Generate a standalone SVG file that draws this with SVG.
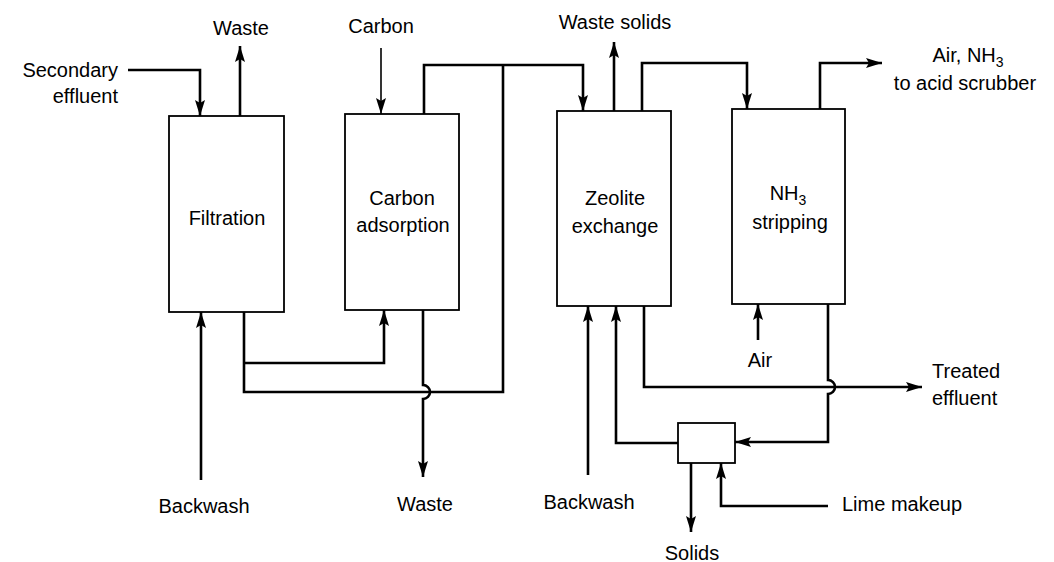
<svg xmlns="http://www.w3.org/2000/svg" width="1054" height="562" viewBox="0 0 1054 562">
<style>
.box{fill:#fff;stroke:#000;stroke-width:1.8}
.ln{fill:none;stroke:#000;stroke-width:2.6;stroke-linejoin:miter}
.thin{stroke-width:1.6}
text{font-family:"Liberation Sans",Arial,sans-serif;font-size:20px;fill:#000}
.c{text-anchor:middle}
.r{text-anchor:end}
.sub{font-size:14px}
</style>
<defs>
<marker id="ah" viewBox="0 0 16 10" refX="16" refY="5" markerWidth="16" markerHeight="10" markerUnits="userSpaceOnUse" orient="auto">
<path d="M0,0 L16,5 L0,10 L3,5 z" fill="#000"/>
</marker>
</defs>
<rect width="1054" height="562" fill="#fff"/>
<g id="filtration"><rect class="box" x="169" y="116" width="115" height="196"/><text class="c" x="227" y="225">Filtration</text></g>
<g id="carbon-adsorption"><rect class="box" x="345" y="114" width="114" height="196"/><text class="c" x="402" y="205">Carbon</text><text class="c" x="403" y="232">adsorption</text></g>
<g id="zeolite-exchange"><rect class="box" x="557" y="111" width="114" height="195"/><text class="c" x="615" y="205">Zeolite</text><text class="c" x="615" y="233">exchange</text></g>
<g id="nh3-stripping"><rect class="box" x="732" y="109" width="113" height="195"/><text class="c" x="788" y="200">NH<tspan class="sub" dy="5">3</tspan></text><text class="c" x="790" y="229">stripping</text></g>
<g id="lime-recovery"><rect class="box" x="678" y="423" width="57" height="40"/></g>
<g id="connectors">
<path class="ln" d="M128,70 H200 V116" marker-end="url(#ah)"/>
<path class="ln" d="M240,116 V46" marker-end="url(#ah)"/>
<path class="ln thin" d="M381,48 V114" marker-end="url(#ah)"/>
<path class="ln" d="M424,114 V65 H583 V111" marker-end="url(#ah)"/>
<path class="ln" d="M244,312 V392 H503 V65"/>
<path class="ln" d="M244,363 H384 V310" marker-end="url(#ah)"/>
<path class="ln" d="M423,310 V385 A7,7 0 0 1 423,399 V477" marker-end="url(#ah)"/>
<path class="ln" d="M201,480 V312" marker-end="url(#ah)"/>
<path class="ln" d="M614,111 V42" marker-end="url(#ah)"/>
<path class="ln" d="M642,111 V63 H747 V109" marker-end="url(#ah)"/>
<path class="ln" d="M820,109 V63 H882" marker-end="url(#ah)"/>
<path class="ln" d="M588,475 V306" marker-end="url(#ah)"/>
<path class="ln" d="M678,443 H616 V306" marker-end="url(#ah)"/>
<path class="ln" d="M644,306 V387 H922" marker-end="url(#ah)"/>
<path class="ln" d="M828,304 V380 A7,7 0 0 1 828,394 V442 H735" marker-end="url(#ah)"/>
<path class="ln" d="M691,463 V532" marker-end="url(#ah)"/>
<path class="ln" d="M828,506 H721 V463" marker-end="url(#ah)"/>
<path class="ln" d="M758,340 V304" marker-end="url(#ah)"/>
</g>
<g id="labels">
<text class="c" x="241" y="35">Waste</text>
<text class="r" x="118" y="77">Secondary</text>
<text class="r" x="118" y="103">effluent</text>
<text class="c" x="381" y="33">Carbon</text>
<text class="c" x="615" y="29">Waste solids</text>
<text class="c" x="968" y="62">Air, NH<tspan class="sub" dy="5">3</tspan></text>
<text class="c" x="965" y="90">to acid scrubber</text>
<text class="c" x="760" y="367">Air</text>
<text x="932" y="378">Treated</text>
<text x="932" y="405">effluent</text>
<text class="c" x="204" y="513">Backwash</text>
<text class="c" x="425" y="511">Waste</text>
<text class="c" x="589" y="509">Backwash</text>
<text class="c" x="692" y="560">Solids</text>
<text x="842" y="511">Lime makeup</text>
</g>
</svg>
